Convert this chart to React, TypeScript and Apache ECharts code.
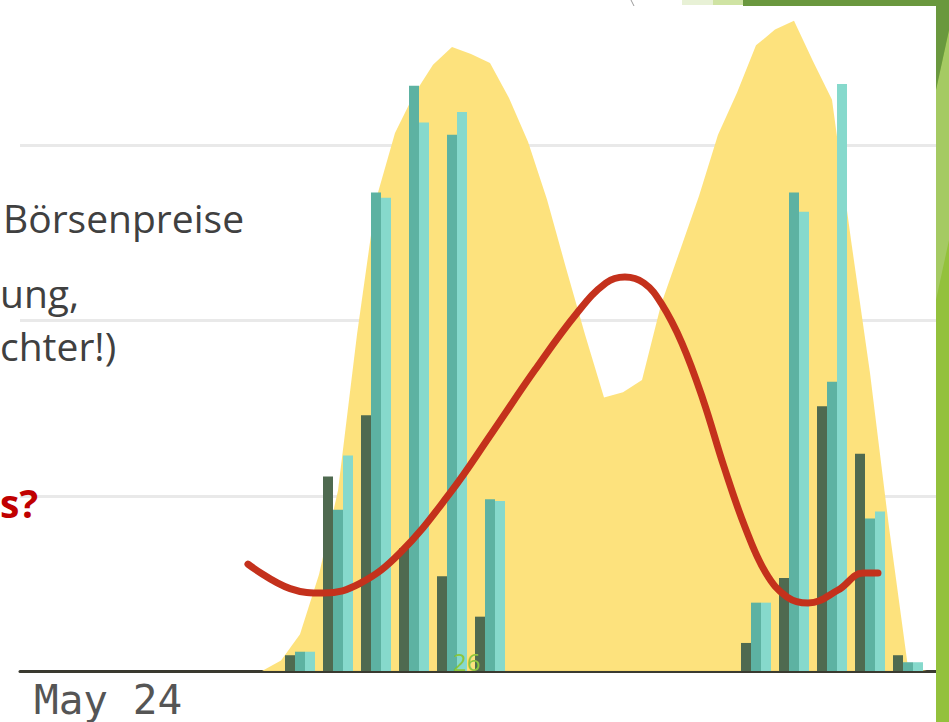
import React, { useEffect, useRef } from "react";
import * as echarts from "echarts";

// hour positions of the bar groups
const BAR_HOURS = [7, 8, 9, 10, 11, 12, 13, 14, 15, 16, 17, 18, 19, 20, 21, 22, 23];
const DARK = [0.09, 1.11, 1.46, 0.7, 0.54, 0.31, 0, 0, 0, 0, 0, 0, 0.16, 0.53, 1.51, 1.24, 0.09];
const TEAL = [0.11, 0.92, 2.73, 3.34, 3.06, 0.98, 0, 0, 0, 0, 0, 0, 0.39, 2.73, 1.65, 0.87, 0.05];
const LIGHT = [0.11, 1.23, 2.7, 3.13, 3.19, 0.97, 0, 0, 0, 0, 0, 0, 0.39, 2.62, 3.35, 0.91, 0.05];

// yellow area (half-hour steps)
const AREA_HOURS = [
  6, 6.5, 7, 7.5, 8, 8.5, 9, 9.5, 10, 10.5, 11, 11.5, 12, 12.5, 13, 13.5, 14, 14.5,
  15, 15.5, 16, 16.5, 17, 17.5, 18, 18.5, 19, 19.5, 20, 20.5, 21, 21.5, 22, 22.5, 23, 23.5,
];
const AREA = [
  0, 0.06, 0.21, 0.55, 1.03, 1.92, 2.69, 3.07, 3.29, 3.46, 3.56, 3.52, 3.47, 3.27, 3.02, 2.69,
  2.3, 1.92, 1.56, 1.59, 1.66, 2.09, 2.4, 2.71, 3.06, 3.3, 3.57, 3.66, 3.71, 3.48, 3.26, 2.46,
  1.7, 0.82, 0.02, 0,
];

// red hand-drawn curve
const CURVE_HOURS = [
  5.63, 6.74, 7.63, 8.58, 9.63, 10.95, 12.05, 13.18, 14.29, 15.05, 15.55, 16.05, 16.5, 17.05,
  17.61, 18.16, 18.71, 19.26, 19.82, 20.37, 21.16, 21.82, 22.21,
];
const CURVE = [
  0.61, 0.47, 0.445, 0.5, 0.673, 1.016, 1.358, 1.717, 2.043, 2.214, 2.248, 2.214, 2.1, 1.871,
  1.546, 1.164, 0.822, 0.559, 0.422, 0.388, 0.462, 0.559, 0.559,
];

const X_LABEL = "May 24";
const TEXT_LINES = ["Börsenpreise", "ung,", "chter!)"];
const QUESTION = "s?";
const PAGE_NO = "26";

export default function App() {
  const ref = useRef<HTMLDivElement>(null);
  useEffect(() => {
    const chart = echarts.init(ref.current!, undefined, { renderer: "svg" });
    const pair = (xs: number[], ys: number[]) => xs.map((x, i) => [x, ys[i]]);
    const textFont = '"Open Sans", "Noto Sans", sans-serif';
    chart.setOption({
      animation: false,
      backgroundColor: "#ffffff",
      grid: { left: 20, right: 13, top: -30, bottom: 51, outerBoundsMode: "none", containLabel: false },
      xAxis: {
        type: "value",
        min: -0.3684,
        max: 23.7368,
        splitLine: { show: false },
        axisTick: { show: false },
        axisLine: { show: true, lineStyle: { color: "#3a3a30", width: 3 } },
        axisLabel: {
          customValues: [0],
          formatter: () => X_LABEL,
          align: "left",
          margin: 8,
          fontSize: 41,
          fontFamily: '"DejaVu Sans Mono", monospace',
          color: "#555555",
        },
      },
      yAxis: {
        type: "value",
        min: 0,
        max: 4,
        interval: 1,
        axisLabel: { show: false },
        axisLine: { show: false },
        axisTick: { show: false },
        splitLine: { show: true, lineStyle: { color: "#e9e9e9", width: 3 } },
      },
      series: [
        {
          type: "line",
          data: pair(AREA_HOURS, AREA),
          symbol: "none",
          lineStyle: { width: 0 },
          areaStyle: { color: "#fde178", opacity: 0.96 },
          z: 1,
        },
        {
          type: "bar",
          data: pair(BAR_HOURS, DARK),
          barWidth: 10,
          barGap: "0%",
          itemStyle: { color: "#4f6a50" },
          z: 2,
        },
        {
          type: "bar",
          data: pair(BAR_HOURS, TEAL),
          barWidth: 10,
          barGap: "0%",
          itemStyle: { color: "#5db2a2" },
          z: 2,
        },
        {
          type: "bar",
          data: pair(BAR_HOURS, LIGHT),
          barWidth: 10,
          barGap: "0%",
          itemStyle: { color: "#86d9cc" },
          z: 2,
        },
        {
          type: "line",
          data: pair(CURVE_HOURS, CURVE),
          smooth: 0.4,
          symbol: "none",
          lineStyle: { color: "#c4311c", width: 7, cap: "round" },
          z: 3,
        },
      ],
      graphic: [
        { type: "text", x: 3, y: 217, style: { text: TEXT_LINES[0], font: `39px ${textFont}`, fill: "#404040", verticalAlign: "middle" }, z: 10 },
        { type: "text", x: 0, y: 292, style: { text: TEXT_LINES[1], font: `39px ${textFont}`, fill: "#404040", verticalAlign: "middle" }, z: 10 },
        { type: "text", x: 0, y: 345, style: { text: TEXT_LINES[2], font: `39px ${textFont}`, fill: "#404040", verticalAlign: "middle" }, z: 10 },
        { type: "text", x: 0, y: 502, style: { text: QUESTION, font: `bold 39px ${textFont}`, fill: "#c00000", verticalAlign: "middle" }, z: 10 },
        { type: "text", x: 453, y: 661, style: { text: PAGE_NO, font: `24px ${textFont}`, fill: "#8cc63e", verticalAlign: "middle" }, z: 10 },
        // slide decorations
        { type: "rect", shape: { x: 682, y: 0, width: 31, height: 5 }, style: { fill: "#e8f1d6" }, z: 20 },
        { type: "rect", shape: { x: 713, y: 0, width: 31, height: 5 }, style: { fill: "#cfe3a3" }, z: 20 },
        { type: "rect", shape: { x: 743, y: 0, width: 206, height: 6 }, style: { fill: "#6a983e" }, z: 20 },
        { type: "rect", shape: { x: 936, y: 0, width: 13, height: 722 }, style: { fill: "#93c13c" }, z: 20 },
        { type: "polygon", shape: { points: [[936, 90], [949, 30], [949, 240], [936, 300]] }, style: { fill: "#a5ca63" }, z: 21 },
        { type: "polygon", shape: { points: [[936, 0], [949, 0], [949, 30], [936, 90]] }, style: { fill: "#6a983e" }, z: 21 },
        { type: "line", shape: { x1: 631, y1: 0, x2: 634, y2: 6 }, style: { stroke: "#9a9a9a", lineWidth: 1 }, z: 20 },
      ],
    });
    return () => chart.dispose();
  }, []);
  return (
    <div
      ref={ref}
      style={{ position: "fixed", left: 0, top: 0, width: 949, height: 722, background: "#fff" }}
    />
  );
}
